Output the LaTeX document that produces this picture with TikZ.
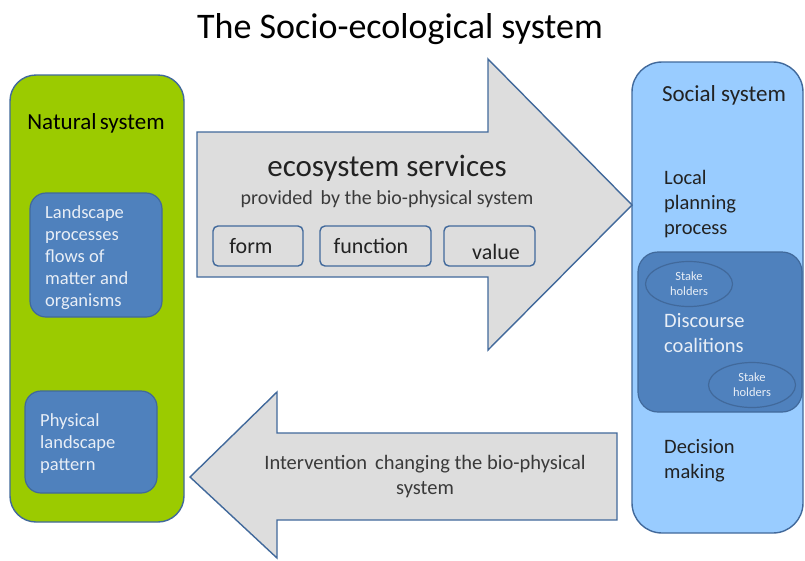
\documentclass[tikz,border=0pt]{standalone}
\usepackage{fontspec}
\setmainfont{Carlito}
\usetikzlibrary{shapes.geometric}
\definecolor{natgreen}{HTML}{9BCB00}
\definecolor{boxblue}{HTML}{4F81BD}
\definecolor{edgeblue}{HTML}{41699B}
\definecolor{socblue}{HTML}{99CCFF}
\definecolor{arrowgray}{HTML}{DDDDDD}
\definecolor{lighttxt}{HTML}{E8EEF6}
\definecolor{darktxt}{HTML}{222222}
\definecolor{graytxt}{HTML}{3A3A3A}
\begin{document}
\begin{tikzpicture}[x=1pt,y=-1pt,
  sysbox/.style={draw=edgeblue,line width=1.4pt},
  innerbox/.style={draw=edgeblue,line width=1.2pt,fill=boxblue,rounded corners=16pt},
  tagbox/.style={draw=edgeblue,line width=1.4pt,rounded corners=5pt},
  stake/.style={ellipse,draw=edgeblue,line width=1.2pt,fill=boxblue,minimum width=87pt,minimum height=45pt,inner sep=0pt,align=center,text=lighttxt,font=\fontsize{12.5}{15}\selectfont},
  bigarrow/.style={draw=edgeblue,line width=1.4pt,fill=arrowgray,line join=miter},
  wtxt/.style={text=lighttxt,align=left,anchor=north west,inner sep=0pt,font=\fontsize{18.5}{22}\selectfont},
  dtxt/.style={text=darktxt,align=left,anchor=north west,inner sep=0pt,font=\fontsize{20.5}{25}\selectfont},
  tagtxt/.style={font=\fontsize{22}{24}\selectfont,text=darktxt}]
\useasboundingbox (0,0) rectangle (805,560);
\fill[white] (0,0) rectangle (805,560);

% title
\node[font=\fontsize{36}{40}\selectfont,text=black] (title) at (400,29) {The Socio-ecological system};

% natural system
\draw[sysbox,fill=natgreen,rounded corners=26pt] (10,75) rectangle (184,522);
\node[font=\fontsize{23}{26}\selectfont,text=black] (natlabel) at (96,123) {Natural\kern-2pt\ system};
\draw[innerbox] (30,193) rectangle (162,317);
\node[wtxt] (landtxt) at (45,205) {Landscape\\processes\\flows of\\matter and\\organisms};
\draw[innerbox] (25,391) rectangle (157,493);
\node[wtxt] (phystxt) at (40,413) {Physical\\landscape\\pattern};

% social system
\draw[sysbox,fill=socblue,rounded corners=30pt] (632,62) rectangle (803,533);
\node[font=\fontsize{23}{26}\selectfont,text=darktxt] (soclabel) at (724,95) {Social system};
\node[dtxt] (local) at (664,170) {Local\\planning\\process};
\draw[innerbox,rounded corners=20pt] (638,252) rectangle (802,412);
\node[stake] (s1) at (689,284) {Stake\\holders};
\node[stake] (s2) at (752,385) {Stake\\holders};
\node[dtxt,text=lighttxt] (disc) at (664,313) {Discourse\\coalitions};
\node[dtxt] (dec) at (664,439) {Decision\\making};

% top arrow
\draw[bigarrow] (197,132) -- (488,132) -- (488,59) -- (632,205) -- (488,350) -- (488,277) -- (197,277) -- cycle;
\node[font=\fontsize{31}{34}\selectfont,text=darktxt] (eco) at (387,168) {ecosystem services};
\node[font=\fontsize{20}{22}\selectfont,text=graytxt] (prov) at (387,199) {provided\, by the bio-physical system};
\draw[tagbox] (213,226) rectangle (303,266);
\node[tagtxt] (form) at (251,246) {form};
\draw[tagbox] (320,226) rectangle (431,266);
\node[tagtxt] (func) at (371,246) {function};
\draw[tagbox] (444,226) rectangle (535,266);
\node[tagtxt] (value) at (496,252) {value};

% bottom arrow
\draw[bigarrow] (617,433) -- (277,433) -- (277,392) -- (190,477) -- (277,558) -- (277,520) -- (617,520) -- cycle;
\node[font=\fontsize{20.5}{25}\selectfont,text=graytxt,align=center] (interv) at (425,477) {Intervention\, changing the bio-physical\\system};
\end{tikzpicture}
\end{document}
